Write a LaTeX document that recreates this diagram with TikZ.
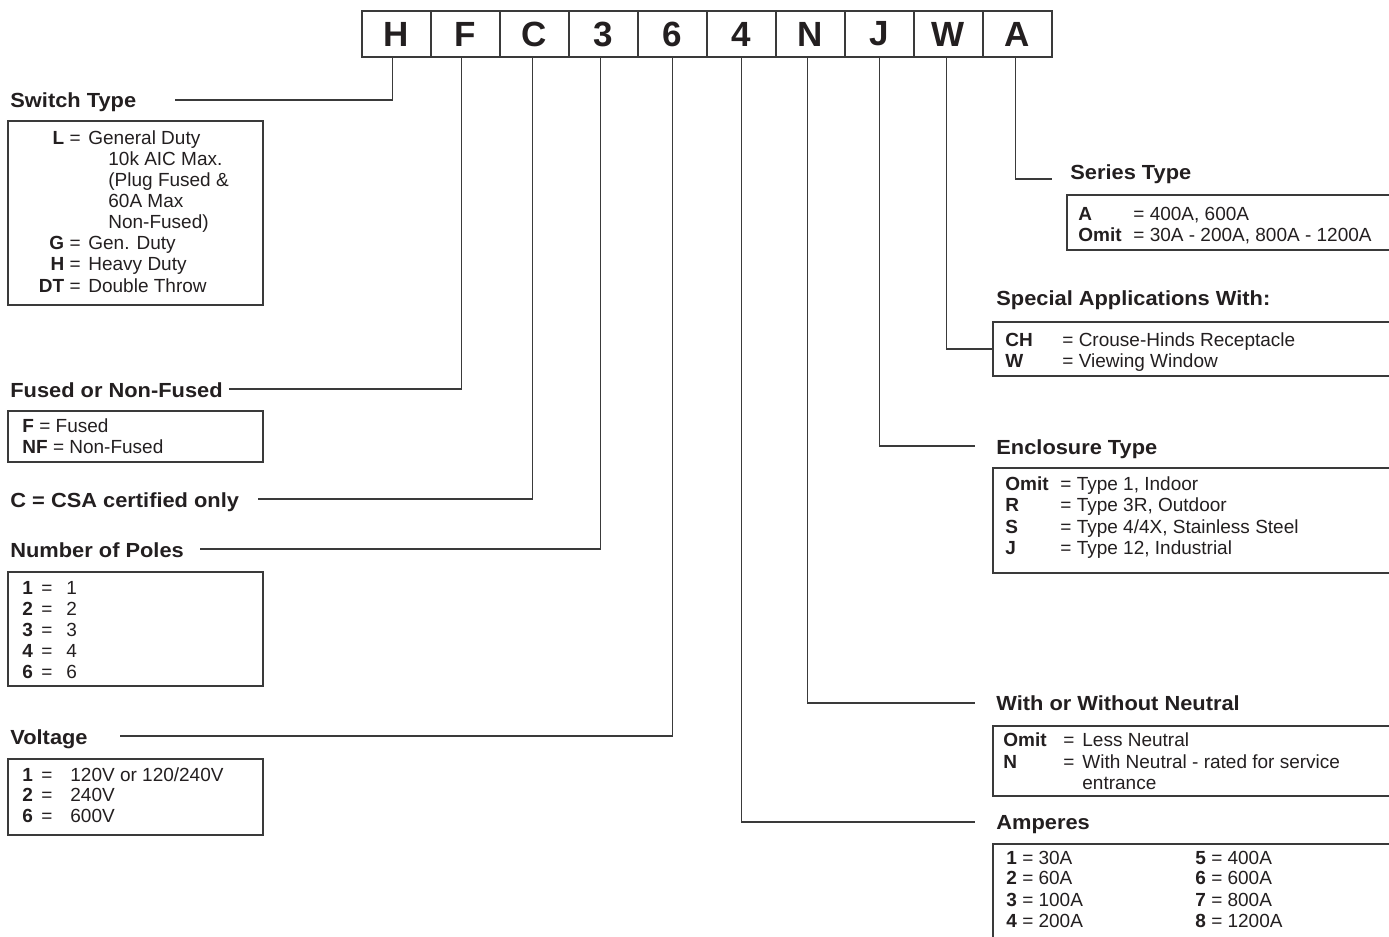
\documentclass[tikz,border=0pt]{standalone}
\usepackage{fontspec}
\setmainfont{Liberation Sans}
\newfontfamily\headfont[FakeStretch=1.07]{Liberation Sans}
\definecolor{linec}{HTML}{3A3A3A}
\definecolor{txtc}{HTML}{231F20}
\tikzset{
  heading/.style={font=\headfont\bfseries\fontsize{10.2}{12}\selectfont, anchor=base west, inner sep=0pt, text=txtc},
  body/.style={font=\fontsize{9.5}{11}\selectfont, anchor=base west, inner sep=0pt, text=txtc},
  bodyr/.style={body, anchor=base east},
  codebox/.style={draw=linec, line width=0.8pt, minimum width=34.5pt, minimum height=23pt, inner sep=0pt, outer sep=0pt, text=txtc,
    font=\bfseries\fontsize{17.5}{18}\selectfont},
  lbox/.style={draw=linec, line width=0.75pt},
  conn/.style={draw=linec, line width=0.6pt},
}
\begin{document}
\begin{tikzpicture}[x=0.5pt,y=-0.5pt]
\useasboundingbox (0,0) rectangle (1389,937);
\clip (0,0) rectangle (1389,937);
% code row
\foreach \l [count=\i] in {H,F,C,3,6,4,N,J,W,A}
  \node[codebox] (c\i) at ({396.5+69*(\i-1)},34) {\l};

% ---------- left side ----------
\node[heading] (st) at (10,107) {Switch Type};
\coordinate (stend) at (175,100);
\draw[conn] ([xshift=-2pt]c1.south) |- (stend);
\draw[lbox] (8,121) rectangle (263,305);
\node[bodyr] (sl) at (81,144) {\textbf{L} =};
\node[body] (slt) at (88,144) {General Duty};
\node[body] (sl2) at (108,165.1) {10k AIC Max.};
\node[body] (sl3) at (108,186.3) {(Plug Fused \&};
\node[body] (sl4) at (108,207.4) {60A Max};
\node[body] (sl5) at (108,228.6) {Non-Fused)};
\node[bodyr] (sg) at (81,249.7) {\textbf{G} =};
\node[body] (sgt) at (88,249.7) {Gen. Duty};
\node[bodyr] (sh) at (81,270.9) {\textbf{H} =};
\node[body] (sht) at (88,270.9) {Heavy Duty};
\node[bodyr] (sd) at (81,292) {\textbf{DT} =};
\node[body] (sdt) at (88,292) {Double Throw};

\node[heading] (fu) at (10,397) {Fused or Non-Fused};
\coordinate (fuend) at (229,389);
\draw[conn] ([xshift=-2pt]c2.south) |- (fuend);
\draw[lbox] (8,411) rectangle (263,462);
\node[body] (f1) at (22,432) {\textbf{F} = Fused};
\node[body] (f2) at (22,453) {\textbf{NF} = Non-Fused};

\node[heading] (csa) at (10,507) {C = CSA certified only};
\coordinate (csaend) at (258,499);
\draw[conn] ([xshift=-1pt]c3.south) |- (csaend);

\node[heading] (po) at (10,557) {Number of Poles};
\coordinate (poend) at (200,549);
\draw[conn] ([xshift=-1.5pt]c4.south) |- (poend);
\draw[lbox] (8,572) rectangle (263,686);
\foreach \k [count=\j] in {1,2,3,4,6} {
  \node[body] (pk\j) at (22,{594+21*(\j-1)}) {\textbf{\k}};
  \node[body] (pe\j) at (41,{594+21*(\j-1)}) {=};
  \node[body] (pv\j) at (66,{594+21*(\j-1)}) {\k};
}

\node[heading] (vo) at (10,744) {Voltage};
\coordinate (voend) at (120,736);
\draw[conn] (c5.south) |- (voend);
\draw[lbox] (8,759) rectangle (263,835);
\node[body] (vk1) at (22,781) {\textbf{1}};
\node[body] (ve1) at (41,781) {=};
\node[body] (vv1) at (70,781) {120V or 120/240V};
\node[body] (vk2) at (22,801.5) {\textbf{2}};
\node[body] (ve2) at (41,801.5) {=};
\node[body] (vv2) at (70,801.5) {240V};
\node[body] (vk3) at (22,822) {\textbf{6}};
\node[body] (ve3) at (41,822) {=};
\node[body] (vv3) at (70,822) {600V};

% ---------- right side ----------
\node[heading] (se) at (1070,179) {Series Type};
\coordinate (seend) at (1052,179);
\draw[conn] ([xshift=-1pt]c10.south) |- (seend);
\draw[lbox] (1067,195) rectangle (1400,250);
\node[body] (sa) at (1078,220) {\textbf{A}};
\node[body] (sav) at (1133,220) {= 400A, 600A};
\node[body] (so) at (1078,241) {\textbf{Omit}};
\node[body] (sov) at (1133,241) {= 30A - 200A, 800A - 1200A};

\node[heading] (sp) at (996,305) {Special Applications With:};
\node[lbox, anchor=north west, minimum width=203.5pt, minimum height=27pt, inner sep=0pt, outer sep=0pt] (spbox) at (993,322) {};
\draw[conn] ([xshift=-1pt]c9.south) |- (spbox.west);
\node[body] (sch) at (1005,346) {\textbf{CH}};
\node[body] (schv) at (1062,346) {= Crouse-Hinds Receptacle};
\node[body] (sw) at (1005,367) {\textbf{W}};
\node[body] (swv) at (1062,367) {= Viewing Window};

\node[heading] (en) at (996,454) {Enclosure Type};
\coordinate (enend) at (975,446);
\draw[conn] (c8.south) |- (enend);
\draw[lbox] (993,468) rectangle (1400,573);
\node[body] (e1) at (1005,490) {\textbf{Omit}};
\node[body] (e1v) at (1060,490) {= Type 1, Indoor};
\node[body] (e2) at (1005,511.5) {\textbf{R}};
\node[body] (e2v) at (1060,511.5) {= Type 3R, Outdoor};
\node[body] (e3) at (1005,533) {\textbf{S}};
\node[body] (e3v) at (1060,533) {= Type 4/4X, Stainless Steel};
\node[body] (e4) at (1005,554) {\textbf{J}};
\node[body] (e4v) at (1060,554) {= Type 12, Industrial};

\node[heading] (ne) at (996,710) {With or Without Neutral};
\coordinate (neend) at (975,703);
\draw[conn] ([xshift=-1.5pt]c7.south) |- (neend);
\draw[lbox] (993,726) rectangle (1400,796);
\node[body] (n1) at (1003,746) {\textbf{Omit}};
\node[body] (n1e) at (1063,746) {=};
\node[body] (n1v) at (1082,746) {Less Neutral};
\node[body] (n2) at (1003,768) {\textbf{N}};
\node[body] (n2e) at (1063,768) {=};
\node[body] (n2v) at (1082,768) {With Neutral - rated for service};
\node[body] (n3v) at (1082,789) {entrance};

\node[heading] (am) at (996,829) {Amperes};
\coordinate (amend) at (975,822);
\draw[conn] (c6.south) |- (amend);
\draw[lbox] (993,844) rectangle (1400,960);
\node[body] (a1) at (1006,864) {\textbf{1} = 30A};
\node[body] (a2) at (1006,884.5) {\textbf{2} = 60A};
\node[body] (a3) at (1006,906) {\textbf{3} = 100A};
\node[body] (a4) at (1006,927) {\textbf{4} = 200A};
\node[body] (a5) at (1195,864) {\textbf{5} = 400A};
\node[body] (a6) at (1195,884.5) {\textbf{6} = 600A};
\node[body] (a7) at (1195,906) {\textbf{7} = 800A};
\node[body] (a8) at (1195,927) {\textbf{8} = 1200A};
\end{tikzpicture}
\end{document}
